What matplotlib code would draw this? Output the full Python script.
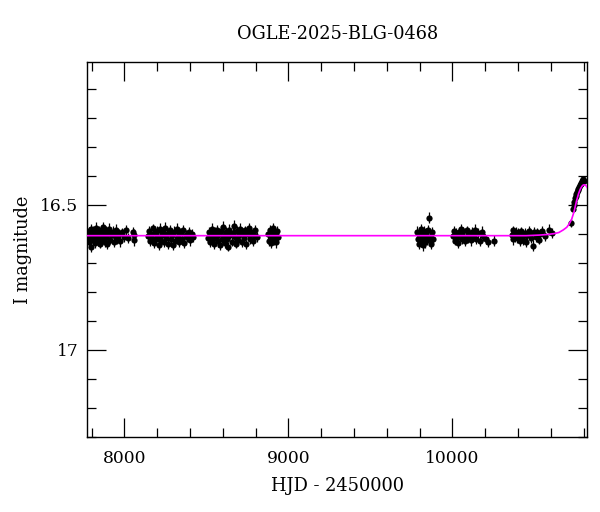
import numpy as np
import matplotlib
matplotlib.use('Agg')
import matplotlib.pyplot as plt
from matplotlib.ticker import MultipleLocator

plt.rcParams['font.family'] = ['DejaVu Serif']

# season 1 (+ a few points near 8058)
hjd_s1 = [7778, 7783, 7787, 7791, 7795, 7798, 7802, 7807, 7811, 7816, 7820, 7825, 7830, 7834,
          7839, 7844, 7849, 7854, 7859, 7864, 7869, 7874, 7880, 7885, 7891, 7897, 7903, 7909,
          7915, 7921, 7928, 7935, 7942, 7950, 7958, 7966, 7975, 7985, 7996, 8008, 8020, 8055, 8058, 8061]
mag_s1 = [16.618, 16.592, 16.628, 16.603, 16.585, 16.645, 16.611, 16.622, 16.590, 16.600, 16.631, 16.580,
          16.614, 16.596, 16.626, 16.588, 16.607, 16.634, 16.594, 16.617, 16.578, 16.602, 16.629, 16.591,
          16.612, 16.637, 16.598, 16.583, 16.621, 16.605, 16.593, 16.630, 16.609, 16.586, 16.619, 16.601,
          16.627, 16.595, 16.613, 16.589, 16.616, 16.596, 16.622, 16.606]
err_s1 = [0.017, 0.016, 0.018, 0.017, 0.019, 0.018, 0.016, 0.017, 0.018, 0.016, 0.017, 0.019,
          0.016, 0.018, 0.017, 0.016, 0.019, 0.017, 0.016, 0.018, 0.017, 0.016, 0.018, 0.017,
          0.019, 0.016, 0.017, 0.018, 0.016, 0.017, 0.019, 0.016, 0.017, 0.018, 0.016, 0.017,
          0.018, 0.016, 0.017, 0.019, 0.017, 0.020, 0.019, 0.021]

# season 2
hjd_s2 = [8146, 8152, 8158, 8164, 8170, 8176, 8182, 8188, 8194, 8200, 8206, 8212, 8218, 8224,
          8230, 8237, 8243, 8249, 8256, 8262, 8269, 8276, 8283, 8290, 8297, 8304, 8311, 8319,
          8326, 8334, 8342, 8350, 8358, 8366, 8375, 8384, 8393, 8402, 8410, 8418]
mag_s2 = [16.609, 16.590, 16.627, 16.600, 16.616, 16.582, 16.633, 16.597, 16.620, 16.592, 16.611, 16.638,
          16.585, 16.624, 16.603, 16.595, 16.630, 16.579, 16.615, 16.601, 16.635, 16.588, 16.619, 16.606,
          16.640, 16.593, 16.625, 16.584, 16.610, 16.629, 16.598, 16.617, 16.589, 16.632, 16.604, 16.613,
          16.594, 16.623, 16.600, 16.612]
err_s2 = [0.017, 0.018, 0.016, 0.017, 0.019, 0.016, 0.018, 0.017, 0.016, 0.019, 0.017, 0.018,
          0.020, 0.016, 0.017, 0.018, 0.016, 0.019, 0.017, 0.016, 0.018, 0.017, 0.019, 0.016,
          0.017, 0.018, 0.016, 0.020, 0.017, 0.018, 0.016, 0.017, 0.019, 0.016, 0.018, 0.017,
          0.016, 0.018, 0.017, 0.016]

# season 3
hjd_s3 = [8512, 8518, 8524, 8530, 8536, 8542, 8548, 8554, 8560, 8566, 8572, 8578, 8584, 8590,
          8596, 8602, 8609, 8615, 8621, 8628, 8634, 8641, 8647, 8654, 8660, 8667, 8673, 8680,
          8687, 8694, 8701, 8708, 8715, 8722, 8729, 8736, 8744, 8751, 8759, 8767, 8775, 8783,
          8791, 8799, 8807]
mag_s3 = [16.616, 16.593, 16.629, 16.601, 16.584, 16.619, 16.636, 16.596, 16.611, 16.588, 16.626, 16.600,
          16.639, 16.590, 16.617, 16.578, 16.608, 16.632, 16.594, 16.620, 16.645, 16.586, 16.603, 16.628,
          16.597, 16.575, 16.613, 16.634, 16.591, 16.622, 16.605, 16.583, 16.629, 16.599, 16.615, 16.589,
          16.637, 16.602, 16.581, 16.618, 16.595, 16.625, 16.604, 16.587, 16.611]
err_s3 = [0.017, 0.016, 0.018, 0.017, 0.019, 0.016, 0.017, 0.018, 0.016, 0.017, 0.019, 0.016,
          0.017, 0.018, 0.016, 0.020, 0.017, 0.016, 0.018, 0.017, 0.016, 0.019, 0.017, 0.016,
          0.018, 0.021, 0.017, 0.016, 0.018, 0.017, 0.016, 0.019, 0.017, 0.016, 0.018, 0.017,
          0.016, 0.017, 0.019, 0.016, 0.018, 0.017, 0.016, 0.018, 0.017]

# season 4
hjd_s4 = [8877, 8882, 8887, 8892, 8897, 8902, 8908, 8914, 8920, 8926, 8931, 8936]
mag_s4 = [16.601, 16.624, 16.588, 16.615, 16.632, 16.596, 16.582, 16.621, 16.606, 16.630, 16.592, 16.613]
err_s4 = [0.018, 0.017, 0.019, 0.017, 0.018, 0.019, 0.018, 0.017, 0.019, 0.018, 0.017, 0.018]

# season 5
hjd_s5 = [9786, 9791, 9796, 9801, 9806, 9811, 9816, 9821, 9826, 9831, 9836, 9841, 9846, 9851,
          9858, 9863, 9869, 9875, 9880]
mag_s5 = [16.594, 16.619, 16.634, 16.601, 16.585, 16.626, 16.607, 16.640, 16.591, 16.615, 16.630, 16.598,
          16.621, 16.588, 16.546, 16.611, 16.636, 16.596, 16.617]
err_s5 = [0.019, 0.018, 0.020, 0.019, 0.018, 0.019, 0.020, 0.019, 0.018, 0.019, 0.020, 0.018,
          0.019, 0.018, 0.019, 0.019, 0.018, 0.019, 0.020]

# season 6
hjd_s6 = [10005, 10010, 10015, 10020, 10026, 10032, 10038, 10050, 10056, 10062, 10068, 10075, 10082,
          10089, 10096, 10104, 10112, 10120, 10128, 10137, 10146, 10156, 10166, 10178, 10190, 10203,
          10216, 10254]
mag_s6 = [16.608, 16.590, 16.624, 16.599, 16.615, 16.631, 16.596, 16.584, 16.618, 16.604, 16.592, 16.627,
          16.610, 16.588, 16.616, 16.600, 16.623, 16.594, 16.606, 16.586, 16.617, 16.598, 16.626, 16.593,
          16.609, 16.620, 16.628, 16.624]
err_s6 = [0.016, 0.017, 0.016, 0.018, 0.016, 0.017, 0.017, 0.016, 0.018, 0.017, 0.016, 0.017,
          0.018, 0.016, 0.017, 0.016, 0.018, 0.017, 0.016, 0.018, 0.017, 0.016, 0.017, 0.018,
          0.016, 0.017, 0.018, 0.020]

# season 7
hjd_s7 = [10363, 10368, 10373, 10378, 10384, 10390, 10396, 10403, 10410, 10418, 10426, 10434, 10442,
          10450, 10458, 10466, 10474, 10482, 10492, 10500, 10508, 10517, 10526, 10536, 10546, 10566,
          10588, 10610]
mag_s7 = [16.606, 16.589, 16.620, 16.597, 16.613, 16.594, 16.616, 16.600, 16.627, 16.592, 16.610, 16.622,
          16.598, 16.630, 16.604, 16.590, 16.599, 16.615, 16.641, 16.593, 16.612, 16.596, 16.621, 16.601,
          16.591, 16.609, 16.586, 16.598]
err_s7 = [0.017, 0.016, 0.018, 0.017, 0.016, 0.017, 0.016, 0.018, 0.017, 0.016, 0.017, 0.018,
          0.016, 0.017, 0.018, 0.016, 0.017, 0.017, 0.019, 0.016, 0.018, 0.017, 0.016, 0.018,
          0.017, 0.016, 0.018, 0.017]

# rising part of the event
hjd_rise = [10724, 10737, 10740, 10744, 10748, 10752, 10756, 10760, 10764, 10768, 10772, 10777,
            10782, 10787, 10791, 10795, 10799, 10803]
mag_rise = [16.563, 16.515, 16.500, 16.490, 16.478, 16.470, 16.462, 16.455, 16.450, 16.446, 16.440, 16.434,
            16.428, 16.424, 16.420, 16.416, 16.413, 16.418]
err_rise = [0.013, 0.012, 0.013, 0.012, 0.013, 0.012, 0.013, 0.012, 0.012, 0.013, 0.012, 0.012,
            0.013, 0.012, 0.012, 0.013, 0.012, 0.012]

# model curve
hjd_model = [7774, 10450, 10530, 10580, 10620, 10650, 10677, 10698, 10713, 10728, 10742, 10758,
             10770, 10780, 10790, 10799, 10808, 10816, 10823]
mag_model = [16.607, 16.607, 16.605, 16.603, 16.600, 16.596, 16.587, 16.578, 16.566, 16.550, 16.525,
             16.486, 16.462, 16.447, 16.437, 16.432, 16.432, 16.435, 16.441]

hjd = hjd_s1 + hjd_s2 + hjd_s3 + hjd_s4 + hjd_s5 + hjd_s6 + hjd_s7 + hjd_rise
mag = mag_s1 + mag_s2 + mag_s3 + mag_s4 + mag_s5 + mag_s6 + mag_s7 + mag_rise
err = err_s1 + err_s2 + err_s3 + err_s4 + err_s5 + err_s6 + err_s7 + err_rise

fig = plt.figure(figsize=(6, 5.12), dpi=100)
ax = fig.add_axes([0.1455, 0.147, 0.8333, 0.731])

ax.errorbar(hjd, mag, yerr=err, fmt='o', color='black', ms=4.5, mew=0,
            elinewidth=0.9, capsize=2.5, capthick=0.9, zorder=2)
ax.plot(hjd_model, mag_model, color='#ff00ff', lw=1.2, zorder=3)

ax.set_xlim(7774, 10823)
ax.set_ylim(17.3, 16.01)

ax.xaxis.set_major_locator(MultipleLocator(1000))
ax.xaxis.set_minor_locator(MultipleLocator(200))
ax.yaxis.set_major_locator(MultipleLocator(0.5))
ax.yaxis.set_minor_locator(MultipleLocator(0.1))
ax.yaxis.set_major_formatter(plt.FuncFormatter(lambda v, p: '%g' % v))
ax.tick_params(which='both', direction='in', top=True, right=True, labelsize=12.3, width=0.9)
ax.tick_params(which='major', length=13.5)
ax.tick_params(which='minor', length=6.5)
ax.tick_params(axis='x', which='major', pad=9.5)
ax.tick_params(axis='y', which='major', pad=6.5)
for s in ax.spines.values():
    s.set_linewidth(1.0)

ax.set_title('OGLE-2025-BLG-0468', fontsize=12.8, pad=17)
ax.set_xlabel('HJD - 2450000', fontsize=12.8, labelpad=7)
ax.set_ylabel('I magnitude', fontsize=12.8, labelpad=6)

fig.savefig('out.png', dpi=100)
